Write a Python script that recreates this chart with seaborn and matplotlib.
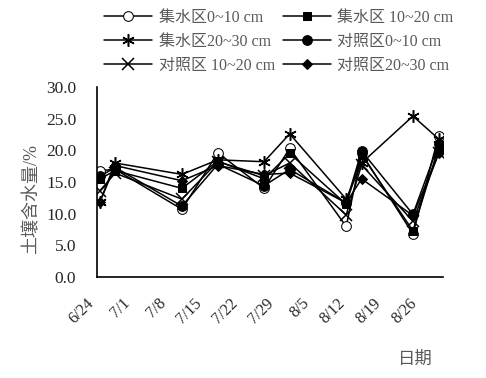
import numpy as np
import pandas as pd
import seaborn as sns
import matplotlib.pyplot as plt

# Sampling dates and soil moisture (%) per treatment / depth
dates = ['2015-06-24', '2015-06-27', '2015-07-10', '2015-07-17', '2015-07-26',
         '2015-07-31', '2015-08-11', '2015-08-14', '2015-08-24', '2015-08-29']
series_names = ['集水区0~10 cm', '集水区 10~20 cm', '集水区20~30 cm',
                '对照区0~10 cm', '对照区 10~20 cm', '对照区20~30 cm']
jsq_0_10 = [16.8, 17.0, 10.7, 19.6, 14.0, 20.3, 8.0, 19.5, 6.8, 22.3]
jsq_10_20 = [15.5, 16.8, 14.0, 18.3, 15.5, 19.5, 11.5, 19.3, 7.3, 20.5]
jsq_20_30 = [11.8, 18.0, 16.2, 18.5, 18.2, 22.6, 12.3, 18.0, 25.4, 21.8]
dzq_0_10 = [15.9, 17.3, 11.2, 17.8, 14.4, 17.0, 11.7, 19.9, 9.9, 21.0]
dzq_10_20 = [13.6, 16.4, 12.3, 18.2, 16.0, 18.0, 9.8, 17.7, 8.8, 19.5]
dzq_20_30 = [11.8, 17.6, 15.2, 17.6, 16.2, 16.4, 11.7, 15.5, 9.7, 19.5]
tick_dates = ['2015-06-24', '2015-07-01', '2015-07-08', '2015-07-15', '2015-07-22',
              '2015-07-29', '2015-08-05', '2015-08-12', '2015-08-19', '2015-08-26']
tick_labels = ['6/24', '7/1', '7/8', '7/15', '7/22', '7/29', '8/5', '8/12', '8/19', '8/26']
y_ticks = [0, 5, 10, 15, 20, 25, 30]

values = [jsq_0_10, jsq_10_20, jsq_20_30, dzq_0_10, dzq_10_20, dzq_20_30]
# excel date axis puts points in the middle of the day
x = pd.to_datetime(dates) + pd.Timedelta(hours=12)

sns.set_style('white')
plt.rcParams['font.family'] = ['Liberation Serif', 'Noto Sans CJK SC']

styles = [
    dict(marker='o', markersize=7, markerfacecolor='white'),
    dict(marker='s', markersize=6),
    dict(marker=(6, 2, 0), markersize=9, markeredgewidth=1.1),
    dict(marker='o', markersize=7),
    dict(marker='x', markersize=8, markeredgewidth=1.1),
    dict(marker='D', markersize=5),
]

fig = plt.figure(figsize=(4.86, 3.78), dpi=100)
ax = fig.add_axes([0.2, 0.267, 0.712, 0.503])

for name, vals, st in zip(series_names, values, styles):
    df = pd.DataFrame({'date': x, 'w': vals})
    sns.lineplot(data=df, x='date', y='w', ax=ax, color='black', linewidth=1.1,
                 markeredgecolor='black', label=name, **st)

ax.set_xlim(pd.Timestamp('2015-06-24'), pd.Timestamp('2015-06-24') + pd.Timedelta(days=67.4))
ax.set_ylim(0, 30)
ax.set_yticks(y_ticks)
ax.set_yticklabels([f'{v:.1f}' for v in y_ticks], fontsize=12.5)
ax.set_xticks(pd.to_datetime(tick_dates))
ax.set_xticklabels(tick_labels, rotation=45, ha='right', fontsize=11.5)
ax.tick_params(axis='x', direction='in', length=5, width=1, pad=13)
ax.tick_params(axis='y', direction='in', length=6, width=1, pad=15)

for s in ['top', 'right']:
    ax.spines[s].set_visible(False)
for s in ['left', 'bottom']:
    ax.spines[s].set_color('black')
    ax.spines[s].set_linewidth(1.2)

ax.set_xlabel('日期', color='#595959', fontsize=12.5)
ax.xaxis.set_label_coords(0.92, -0.39)
ax.set_ylabel('土壤含水量/%', color='#595959', fontsize=13)
ax.yaxis.set_label_coords(-0.165, 0.41)

# legend filled row by row like the original
h, l = ax.get_legend_handles_labels()
order = [0, 2, 4, 1, 3, 5]
leg = ax.legend([h[i] for i in order], [l[i] for i in order],
                loc='upper center', bbox_to_anchor=(0.574, 0.995), bbox_transform=fig.transFigure,
                ncol=2, frameon=False, fontsize=11.5, handlelength=3.0, handletextpad=0.4,
                columnspacing=0.5, labelspacing=0.5, borderpad=0)
for t in leg.get_texts():
    t.set_color('#595959')

fig.savefig('out.png', dpi=100)
